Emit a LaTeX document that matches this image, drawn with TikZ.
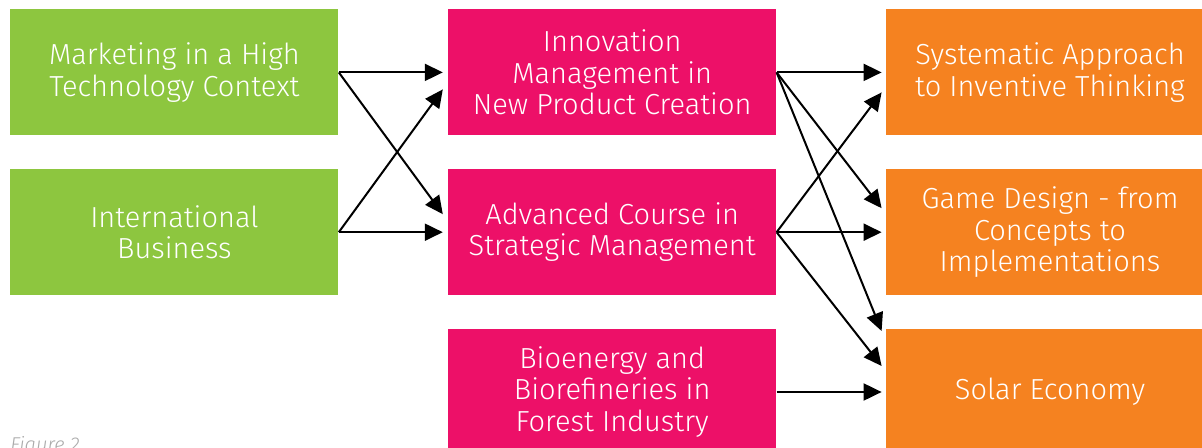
\documentclass[tikz,border=0pt]{standalone}
\usepackage{fontspec}
\setmainfont{Fira Sans Light}
\usepackage{xcolor}
\usepackage{tikz}
\usetikzlibrary{arrows.meta, positioning}
\definecolor{coursegreen}{RGB}{141, 198, 63}
\definecolor{coursemagenta}{RGB}{237, 16, 104}
\definecolor{courseorange}{RGB}{245, 130, 32}
\definecolor{captiongray}{RGB}{170, 170, 170}

\begin{document}
\begin{tikzpicture}[
    x=0.5pt, y=-0.5pt,
    node distance=16.5pt and 54.5pt,
    course/.style={rectangle, minimum width=164pt, minimum height=63pt, inner sep=0pt, align=center, text=white, font=\fontsize{14.5}{15.7}\selectfont},
    arrow/.style={-{Triangle[length=9pt, width=8.5pt]}, line width=1pt, black}
]
\useasboundingbox (0,0) rectangle (1202,448);
\clip (0,0) rectangle (1202,448);

\node[course, fill=coursegreen, anchor=north west] (mhtc) at (10,9) {Marketing in a High\\Technology Context};
\node[course, fill=coursegreen, below=of mhtc] (ib) {International\\Business};

\node[course, fill=coursemagenta, right=of mhtc] (imnpc) {Innovation\\Management in\\New Product Creation};
\node[course, fill=coursemagenta, below=of imnpc] (acsm) {Advanced Course in\\Strategic Management};
\node[course, fill=coursemagenta, below=of acsm] (bbfi) {Bioenergy and\\Biorefineries in\\Forest Industry};

\node[course, fill=courseorange, right=of imnpc] (sait) {Systematic Approach\\to Inventive Thinking};
\node[course, fill=courseorange, below=of sait] (gdci) {Game Design - from\\Concepts to\\Implementations};
\node[course, fill=courseorange, below=of gdci] (se) {Solar Economy};

\node[anchor=base west, inner sep=0pt, text=captiongray, font=\fontsize{10}{12}\selectfont\itshape] (cap) at (10,451) {Figure 2};

% first column to second
\draw[arrow] (mhtc.east) -- ([xshift=-2.5pt]imnpc.west);
\draw[arrow] (mhtc.east) -- ([xshift=-2.5pt, yshift=9pt]acsm.west);
\draw[arrow] (ib.east) -- ([xshift=-2.5pt, yshift=-8.5pt]imnpc.west);
\draw[arrow] (ib.east) -- ([xshift=-2.5pt]acsm.west);

% second column to third
\draw[arrow] (imnpc.east) -- ([xshift=-2pt]sait.west);
\draw[arrow] (imnpc.east) -- ([xshift=-2pt, yshift=12pt]gdci.west);
\draw[arrow] (imnpc.east) -- ([xshift=-2pt, yshift=30.5pt]se.west);
\draw[arrow] (acsm.east) -- ([xshift=-2pt, yshift=-10pt]sait.west);
\draw[arrow] (acsm.east) -- ([xshift=-2pt]gdci.west);
\draw[arrow] (acsm.east) -- ([xshift=-2pt, yshift=13pt]se.west);
\draw[arrow] (bbfi.east) -- ([xshift=-2pt]se.west);

\end{tikzpicture}
\end{document}
